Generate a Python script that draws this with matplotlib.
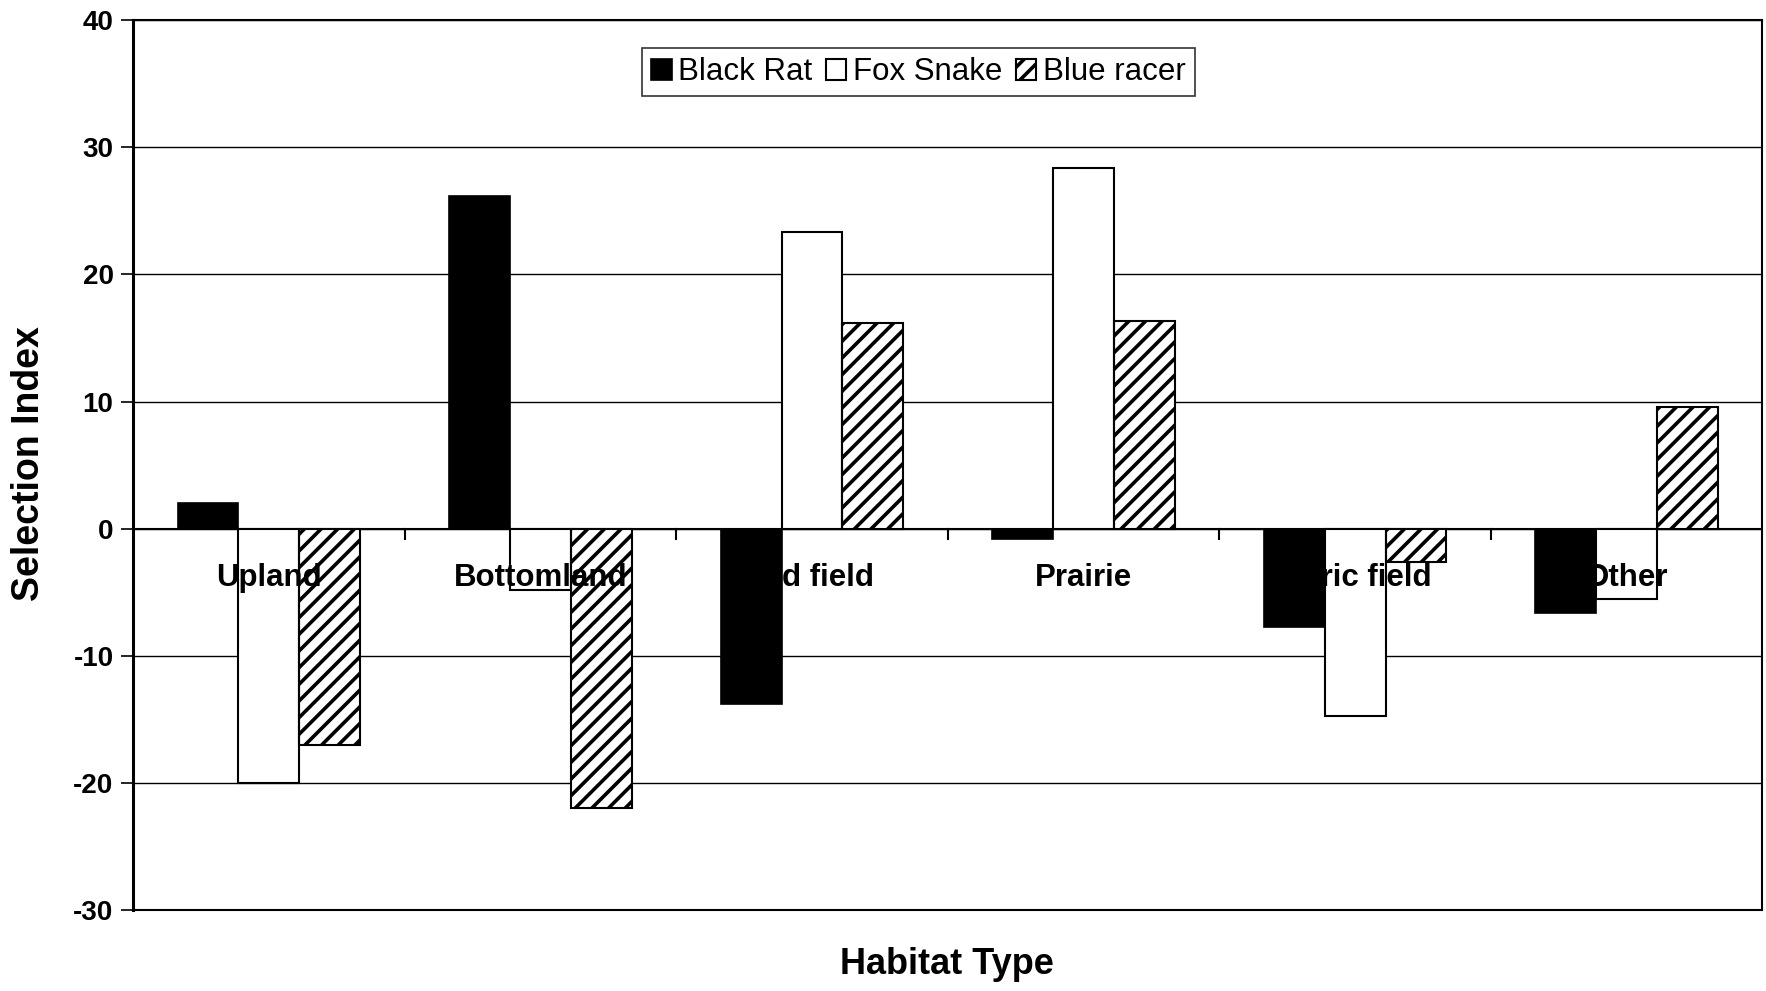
import matplotlib
matplotlib.use("Agg")
import matplotlib.pyplot as plt
import numpy as np

plt.rcParams['font.family'] = ['Liberation Sans', 'DejaVu Sans']
plt.rcParams['hatch.linewidth'] = 2.6

habitats = ['Upland', 'Bottomland', 'Old field', 'Prairie', 'Agric field', 'Other']
black_rat = [2.0, 26.2, -13.8, -0.8, -7.7, -6.6]
fox_snake = [-20.0, -4.8, 23.3, 28.4, -14.7, -5.5]
blue_racer = [-17.0, -22.0, 16.2, 16.3, -2.6, 9.6]

fig = plt.figure(figsize=(17.66, 9.91), dpi=100)
ax = fig.add_axes([0.0753, 0.0817, 0.9227, 0.898])

x = np.arange(len(habitats))
w = 0.224

# white fills go under the category labels, outlines and hatching above them
ax.bar(x, fox_snake, w, color='white', edgecolor='none', zorder=2)
ax.bar(x + w, blue_racer, w, color='white', edgecolor='none', zorder=2)

ax.bar(x - w, black_rat, w, color='black', edgecolor='black', linewidth=1.2,
       label='Black Rat', zorder=3)
ax.bar(x, fox_snake, w, fill=False, edgecolor='black', linewidth=1.5,
       label='Fox Snake', zorder=3)
ax.bar(x + w, blue_racer, w, fill=False, edgecolor='black', linewidth=1.5,
       hatch='//', label='Blue racer', zorder=3)

for xi, name in zip(x, habitats):
    ax.text(xi, -4.5, name, ha='center', va='baseline', fontsize=22.5,
            fontweight='bold', zorder=2.5)

ax.set_xlim(-0.5, len(habitats) - 0.5)
ax.set_ylim(-30, 40)
ax.set_yticks(range(-30, 41, 10))
ax.set_yticklabels([str(v) for v in range(-30, 41, 10)], fontsize=20,
                   fontweight='bold')
ax.yaxis.grid(True, color='black', linewidth=1.0, zorder=0)
ax.set_axisbelow(True)
ax.axhline(0, color='black', linewidth=1.5, zorder=1)

# x ticks at category boundaries on the zero line
ax.set_xticks([])
for b in np.arange(0.5, len(habitats) - 0.5, 1.0):
    ax.plot([b, b], [0, -0.8], color='black', linewidth=1.5, zorder=1)

for s in ax.spines.values():
    s.set_linewidth(1.5)
ax.spines['left'].set_linewidth(2.2)
ax.tick_params(axis='y', length=9, width=1.2, pad=5)

fig.text(0.0165, 0.532, 'Selection Index', ha='center', va='center',
         rotation=90, fontsize=27, fontweight='bold')
fig.text(0.536, 0.027, 'Habitat Type', ha='center', va='center', fontsize=26,
         fontweight='bold')

leg = ax.legend(loc='upper center', bbox_to_anchor=(0.482, 0.969), ncol=3,
                fontsize=22.5, frameon=True, fancybox=False, handlelength=0.65,
                handleheight=0.65, handletextpad=0.2, columnspacing=0.45,
                borderpad=0.3, borderaxespad=0)
leg.get_frame().set_edgecolor('black')
leg.get_frame().set_linewidth(1.2)

fig.savefig('out.png', dpi=100)
